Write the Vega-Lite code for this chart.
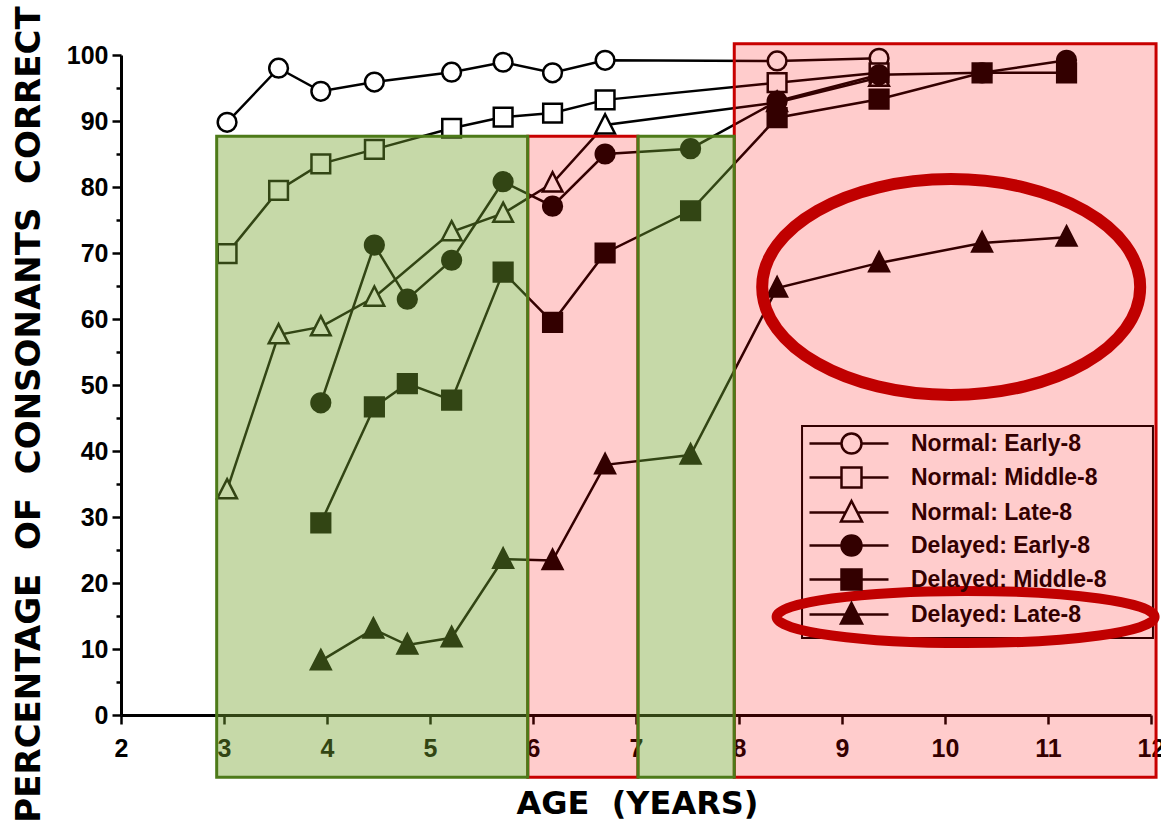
{
  "$schema": "https://vega.github.io/schema/vega-lite/v6.json",
  "width": 1030,
  "height": 660,
  "autosize": {"type": "none"},
  "padding": {"left": 121, "top": 55, "right": 10, "bottom": 110},
  "background": "white",
  "config": {"view": {"stroke": null}},
  "datasets": {
    "main": [
      {"series": "Normal: Early-8", "age": 3.03, "pct": 89.8},
      {"series": "Normal: Early-8", "age": 3.53, "pct": 98.0},
      {"series": "Normal: Early-8", "age": 3.94, "pct": 94.5},
      {"series": "Normal: Early-8", "age": 4.46, "pct": 95.9},
      {"series": "Normal: Early-8", "age": 5.21, "pct": 97.4},
      {"series": "Normal: Early-8", "age": 5.71, "pct": 98.9},
      {"series": "Normal: Early-8", "age": 6.19, "pct": 97.3},
      {"series": "Normal: Early-8", "age": 6.70, "pct": 99.2},
      {"series": "Normal: Early-8", "age": 8.37, "pct": 99.1},
      {"series": "Normal: Early-8", "age": 9.36, "pct": 99.5},
      {"series": "Normal: Middle-8", "age": 3.03, "pct": 69.9},
      {"series": "Normal: Middle-8", "age": 3.53, "pct": 79.5},
      {"series": "Normal: Middle-8", "age": 3.94, "pct": 83.5},
      {"series": "Normal: Middle-8", "age": 4.46, "pct": 85.7},
      {"series": "Normal: Middle-8", "age": 5.21, "pct": 88.9},
      {"series": "Normal: Middle-8", "age": 5.71, "pct": 90.6},
      {"series": "Normal: Middle-8", "age": 6.19, "pct": 91.2},
      {"series": "Normal: Middle-8", "age": 6.70, "pct": 93.2},
      {"series": "Normal: Middle-8", "age": 8.37, "pct": 95.8},
      {"series": "Normal: Middle-8", "age": 9.36, "pct": 97.3},
      {"series": "Normal: Late-8", "age": 3.03, "pct": 34.1},
      {"series": "Normal: Late-8", "age": 3.53, "pct": 57.6},
      {"series": "Normal: Late-8", "age": 3.94, "pct": 58.8},
      {"series": "Normal: Late-8", "age": 4.46, "pct": 63.3},
      {"series": "Normal: Late-8", "age": 5.21, "pct": 73.2},
      {"series": "Normal: Late-8", "age": 5.71, "pct": 76.0},
      {"series": "Normal: Late-8", "age": 6.19, "pct": 80.6},
      {"series": "Normal: Late-8", "age": 6.70, "pct": 89.4},
      {"series": "Normal: Late-8", "age": 8.37, "pct": 92.8},
      {"series": "Normal: Late-8", "age": 9.36, "pct": 96.6},
      {"series": "Delayed: Early-8", "age": 3.94, "pct": 47.3},
      {"series": "Delayed: Early-8", "age": 4.46, "pct": 71.2},
      {"series": "Delayed: Early-8", "age": 4.78, "pct": 63.0},
      {"series": "Delayed: Early-8", "age": 5.21, "pct": 68.9},
      {"series": "Delayed: Early-8", "age": 5.71, "pct": 80.8},
      {"series": "Delayed: Early-8", "age": 6.19, "pct": 77.1},
      {"series": "Delayed: Early-8", "age": 6.70, "pct": 85.0},
      {"series": "Delayed: Early-8", "age": 7.53, "pct": 85.8},
      {"series": "Delayed: Early-8", "age": 8.37, "pct": 93.0},
      {"series": "Delayed: Early-8", "age": 9.36, "pct": 97.0},
      {"series": "Delayed: Early-8", "age": 10.36, "pct": 97.3},
      {"series": "Delayed: Early-8", "age": 11.18, "pct": 99.2},
      {"series": "Delayed: Middle-8", "age": 3.94, "pct": 29.1},
      {"series": "Delayed: Middle-8", "age": 4.46, "pct": 46.7},
      {"series": "Delayed: Middle-8", "age": 4.78, "pct": 50.2},
      {"series": "Delayed: Middle-8", "age": 5.21, "pct": 47.7},
      {"series": "Delayed: Middle-8", "age": 5.71, "pct": 67.1},
      {"series": "Delayed: Middle-8", "age": 6.19, "pct": 59.5},
      {"series": "Delayed: Middle-8", "age": 6.70, "pct": 70.0},
      {"series": "Delayed: Middle-8", "age": 7.53, "pct": 76.4},
      {"series": "Delayed: Middle-8", "age": 8.37, "pct": 90.5},
      {"series": "Delayed: Middle-8", "age": 9.36, "pct": 93.3},
      {"series": "Delayed: Middle-8", "age": 10.36, "pct": 97.3},
      {"series": "Delayed: Middle-8", "age": 11.18, "pct": 97.3},
      {"series": "Delayed: Late-8", "age": 3.94, "pct": 8.2},
      {"series": "Delayed: Late-8", "age": 4.45, "pct": 13.0},
      {"series": "Delayed: Late-8", "age": 4.78, "pct": 10.6},
      {"series": "Delayed: Late-8", "age": 5.21, "pct": 11.7},
      {"series": "Delayed: Late-8", "age": 5.71, "pct": 23.6},
      {"series": "Delayed: Late-8", "age": 6.19, "pct": 23.4},
      {"series": "Delayed: Late-8", "age": 6.70, "pct": 37.9},
      {"series": "Delayed: Late-8", "age": 7.53, "pct": 39.4},
      {"series": "Delayed: Late-8", "age": 8.37, "pct": 64.7},
      {"series": "Delayed: Late-8", "age": 9.36, "pct": 68.5},
      {"series": "Delayed: Late-8", "age": 10.36, "pct": 71.5},
      {"series": "Delayed: Late-8", "age": 11.18, "pct": 72.4}
    ],
    "red_zones": [
      {"age": 5.949, "age_end": 7.019, "pct": 87.7, "pct_end": -9.44},
      {"age": 7.954, "age_end": 12.049, "pct": 101.7, "pct_end": -9.44}
    ],
    "green_zones": [
      {"age": 2.929, "age_end": 5.949, "pct": 87.7, "pct_end": -9.44},
      {"age": 7.019, "age_end": 7.954, "pct": 87.7, "pct_end": -9.44}
    ],
    "legend_box": [{"age": 8.612, "age_end": 12.019, "pct": 43.79, "pct_end": 11.67}],
    "big_highlight": [{"age": 10.06, "pct": 64.85}],
    "legend_highlight": [{"age": 10.2, "pct": 14.85}]
  },
  "resolve": {
    "scale": {"shape": "independent", "fill": "independent", "stroke": "independent"},
    "legend": {"shape": "independent", "fill": "independent", "stroke": "independent"}
  },
  "encoding": {
    "x": {
      "field": "age",
      "type": "quantitative",
      "scale": {"domain": [2, 12], "nice": false, "zero": false},
      "axis": {
        "title": "AGE\u00a0\u00a0(YEARS)",
        "values": [2, 2.5, 3, 3.5, 4, 4.5, 5, 5.5, 6, 6.5, 7, 7.5, 8, 8.5, 9, 9.5, 10, 10.5, 11, 11.5, 12],
        "format": "d",
        "labelExpr": "datum.value % 1 === 0 ? datum.label : ''",
        "labelFlush": false,
        "labelOverlap": false,
        "labelBound": false,
        "labelFont": "Liberation Sans",
        "labelFontSize": 25,
        "labelFontWeight": "bold",
        "labelColor": "black",
        "labelPadding": 12,
        "tickColor": "black",
        "tickWidth": 2.5,
        "tickSize": {"condition": {"test": "datum.value % 1 === 0", "value": 9}, "value": 5},
        "domainColor": "black",
        "domainWidth": 3,
        "grid": false,
        "titleFont": "DejaVu Sans",
        "titleFontSize": 32,
        "titleFontWeight": "bold",
        "titleColor": "black",
        "titleX": 516,
        "titleY": 88,
        "titleAlign": "center",
        "titleBaseline": "middle",
        "titleAngle": 0,
        "zindex": 0
      }
    },
    "y": {
      "field": "pct",
      "type": "quantitative",
      "scale": {"domain": [0, 100], "nice": false, "zero": false},
      "axis": {
        "title": "PERCENTAGE\u00a0\u00a0OF\u00a0\u00a0CONSONANTS\u00a0\u00a0CORRECT",
        "values": [0, 5, 10, 15, 20, 25, 30, 35, 40, 45, 50, 55, 60, 65, 70, 75, 80, 85, 90, 95, 100],
        "labelExpr": "datum.value % 10 === 0 ? datum.label : ''",
        "labelOverlap": false,
        "labelBound": false,
        "labelFlush": false,
        "labelFont": "Liberation Sans",
        "labelFontSize": 25,
        "labelFontWeight": "bold",
        "labelColor": "black",
        "labelPadding": 4,
        "tickColor": "black",
        "tickWidth": 2.5,
        "tickSize": {"condition": {"test": "datum.value % 10 === 0", "value": 9}, "value": 5},
        "domainColor": "black",
        "domainWidth": 3,
        "grid": false,
        "titleFont": "DejaVu Sans",
        "titleFontSize": 34,
        "titleFontWeight": "bold",
        "titleColor": "black",
        "titleX": -92,
        "titleY": 359,
        "titleAngle": 270,
        "titleAlign": "center",
        "titleBaseline": "middle",
        "zindex": 0
      }
    }
  },
  "layer": [
    {
      "data": {"name": "main"},
      "mark": {"type": "line", "color": "black", "strokeWidth": 2.5},
      "encoding": {"detail": {"field": "series", "type": "nominal"}}
    },
    {
      "data": {"name": "main"},
      "mark": {"type": "point", "size": 350, "stroke": "black", "strokeWidth": 2.5, "opacity": 1, "filled": true},
      "encoding": {
        "shape": {
          "field": "series",
          "type": "nominal",
          "scale": {
            "domain": ["Normal: Early-8", "Normal: Middle-8", "Normal: Late-8", "Delayed: Early-8", "Delayed: Middle-8", "Delayed: Late-8"],
            "range": ["circle", "square", "M 0 -1.15 L 1.05 0.9 L -1.05 0.9 Z", "circle", "square", "M 0 -1.15 L 1.05 0.9 L -1.05 0.9 Z"]
          },
          "legend": null
        },
        "fill": {
          "field": "series",
          "type": "nominal",
          "scale": {
            "domain": ["Normal: Early-8", "Normal: Middle-8", "Normal: Late-8", "Delayed: Early-8", "Delayed: Middle-8", "Delayed: Late-8"],
            "range": ["white", "white", "white", "black", "black", "black"]
          },
          "legend": null
        }
      }
    },
    {
      "data": {"name": "main"},
      "mark": {"type": "point", "size": 400, "strokeWidth": 2.5, "opacity": 0, "filled": true},
      "encoding": {
        "shape": {
          "field": "series",
          "type": "nominal",
          "scale": {
            "domain": ["Normal: Early-8", "Normal: Middle-8", "Normal: Late-8", "Delayed: Early-8", "Delayed: Middle-8", "Delayed: Late-8"],
            "range": [
              "M -4.2 0 L -1 0 M 1 0 L 3.7 0 M 1 0 A 1 1 0 1 1 -1 0 A 1 1 0 1 1 1 0 Z",
              "M -4.2 0 L -1 0 M 1 0 L 3.7 0 M -1 -1 L 1 -1 L 1 1 L -1 1 Z",
              "M -4.2 0 L -0.59 0 M 0.59 0 L 3.7 0 M 0 -1.15 L 1.05 0.9 L -1.05 0.9 Z",
              "M -4.2 0 L -1 0 M 1 0 L 3.7 0 M 1 0 A 1 1 0 1 1 -1 0 A 1 1 0 1 1 1 0 Z",
              "M -4.2 0 L -1 0 M 1 0 L 3.7 0 M -1 -1 L 1 -1 L 1 1 L -1 1 Z",
              "M -4.2 0 L -0.59 0 M 0.59 0 L 3.7 0 M 0 -1.15 L 1.05 0.9 L -1.05 0.9 Z"
            ]
          },
          "legend": {
            "title": null,
            "orient": "none",
            "legendX": 681,
            "legendY": 371,
            "padding": 6,
            "labelFont": "Liberation Sans",
            "labelFontSize": 23,
            "labelFontWeight": "bold",
            "labelColor": "#330000",
            "labelLimit": 500,
            "symbolSize": 400,
            "symbolOffset": 32,
            "labelOffset": 48,
            "rowPadding": 3,
            "symbolStrokeWidth": 2.5,
            "symbolOpacity": 1
          }
        },
        "fill": {
          "field": "series",
          "type": "nominal",
          "scale": {
            "domain": ["Normal: Early-8", "Normal: Middle-8", "Normal: Late-8", "Delayed: Early-8", "Delayed: Middle-8", "Delayed: Late-8"],
            "range": ["#ffcccc", "#ffcccc", "#ffcccc", "#330000", "#330000", "#330000"]
          },
          "legend": {
            "title": null,
            "orient": "none",
            "legendX": 681,
            "legendY": 371,
            "padding": 6,
            "labelFont": "Liberation Sans",
            "labelFontSize": 23,
            "labelFontWeight": "bold",
            "labelColor": "#330000",
            "labelLimit": 500,
            "symbolSize": 400,
            "symbolOffset": 32,
            "labelOffset": 48,
            "rowPadding": 3,
            "symbolStrokeWidth": 2.5,
            "symbolOpacity": 1
          }
        },
        "stroke": {
          "field": "series",
          "type": "nominal",
          "scale": {
            "domain": ["Normal: Early-8", "Normal: Middle-8", "Normal: Late-8", "Delayed: Early-8", "Delayed: Middle-8", "Delayed: Late-8"],
            "range": ["#330000", "#330000", "#330000", "#330000", "#330000", "#330000"]
          },
          "legend": {
            "title": null,
            "orient": "none",
            "legendX": 681,
            "legendY": 371,
            "padding": 6,
            "labelFont": "Liberation Sans",
            "labelFontSize": 23,
            "labelFontWeight": "bold",
            "labelColor": "#330000",
            "labelLimit": 500,
            "symbolSize": 400,
            "symbolOffset": 32,
            "labelOffset": 48,
            "rowPadding": 3,
            "symbolStrokeWidth": 2.5,
            "symbolOpacity": 1
          }
        }
      }
    },
    {
      "data": {"name": "legend_box"},
      "mark": {"type": "rect", "fill": "white", "fillOpacity": 0, "stroke": "black", "strokeWidth": 2},
      "encoding": {"x2": {"field": "age_end"}, "y2": {"field": "pct_end"}}
    },
    {
      "data": {"name": "red_zones"},
      "mark": {"type": "rect", "fill": "#ff0000", "fillOpacity": 0.2, "stroke": "#c80000", "strokeWidth": 3, "strokeOpacity": 1},
      "encoding": {"x2": {"field": "age_end"}, "y2": {"field": "pct_end"}}
    },
    {
      "data": {"name": "green_zones"},
      "mark": {"type": "rect", "fill": "#76a52f", "fillOpacity": 0.42, "stroke": "#4d7a19", "strokeWidth": 3, "strokeOpacity": 1},
      "encoding": {"x2": {"field": "age_end"}, "y2": {"field": "pct_end"}}
    },
    {
      "data": {"name": "big_highlight"},
      "mark": {"type": "point", "shape": "M -1 0 A 1 0.571 0 1 0 1 0 A 1 0.571 0 1 0 -1 0 Z", "size": 142884, "filled": false, "fill": null, "stroke": "#c00000", "strokeWidth": 12, "opacity": 1}
    },
    {
      "data": {"name": "legend_highlight"},
      "mark": {"type": "point", "shape": "M -1 0 A 1 0.138 0 1 0 1 0 A 1 0.138 0 1 0 -1 0 Z", "size": 142884, "filled": false, "fill": null, "stroke": "#c00000", "strokeWidth": 10, "opacity": 1}
    }
  ]
}
